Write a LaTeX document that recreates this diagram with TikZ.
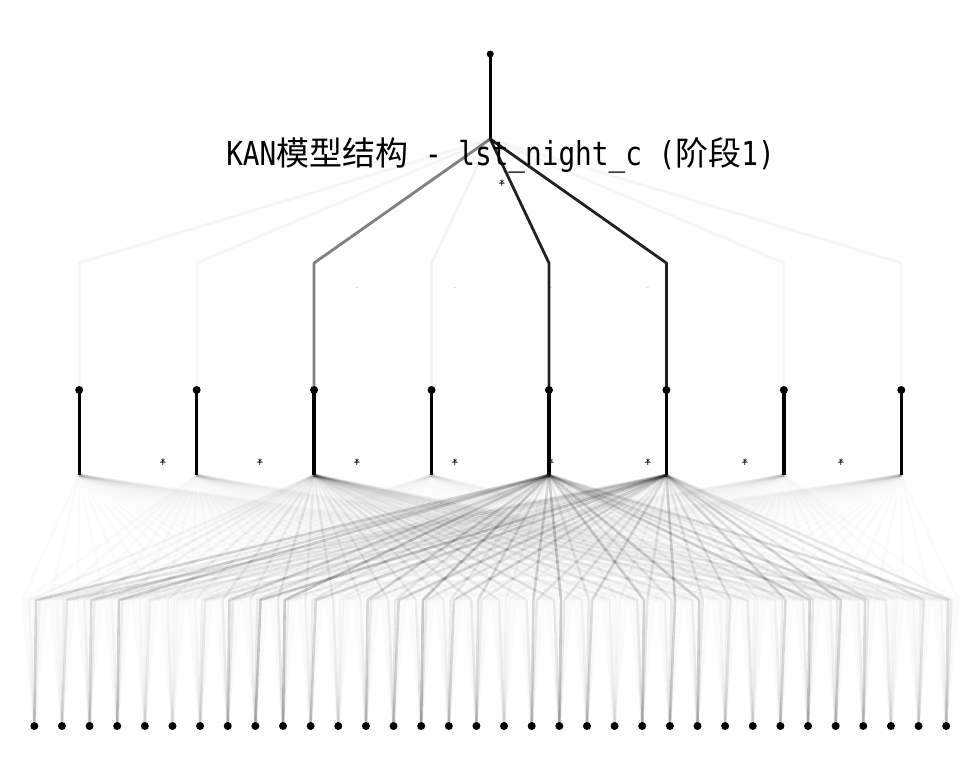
\documentclass[tikz,border=0pt]{standalone}
\usepackage{fontspec}
\newfontfamily\cjk{Noto Sans CJK SC}
\newfontfamily\tmono[FakeStretch=0.84]{DejaVu Sans Mono}
\newfontfamily\dv{DejaVu Sans}
\begin{document}
\begin{tikzpicture}[x=1pt,y=-1pt,
  dot/.style={circle,fill=black,inner sep=0pt,minimum size=8pt},
  edge/.style={draw=black,line width=2.6pt,line join=round},
  topedge/.style={draw=black,line width=2.8pt,line join=round},
  sumline/.style={draw=black,line width=3.4pt},
  tinymark/.style={inner sep=0pt,font=\dv\fontsize{9}{9}\selectfont}]
\useasboundingbox (0,0) rectangle (980,780);

% coordinates of neurons
\foreach \i in {0,...,33}{
  \pgfmathsetmacro\bx{20.5+27.6324*(\i+0.5)}
  \coordinate (b\i) at (\bx,726);
}
\foreach \j in {0,...,7}{
  \pgfmathsetmacro\hx{20.5+117.4375*(\j+0.5)}
  \coordinate (s\j) at (\hx,475);
  \coordinate (h\j) at (\hx,390);
  \coordinate (k\j) at (\hx,263);
}
\coordinate (top) at (490.25,54);
\coordinate (tops) at (490.25,139);

% layer 0 edges (34 -> 8)
\foreach \i/\aa/\ab/\ac in {
 0/0.05/0.20/0.07, 1/0.04/0.07/0.13, 2/0.07/0.18/0.09, 3/0.05/0.22/0.09,
 4/0.04/0.05/0.09, 5/0.06/0.04/0.04, 6/0.05/0.07/0.11, 7/0.09/0.20/0.11,
 8/0.07/0.11/0.27, 9/0.11/0.27/0.09, 10/0.07/0.09/0.20, 11/0.09/0.05/0.05,
 12/0.07/0.20/0.11, 13/0.09/0.11/0.20, 14/0.09/0.27/0.11, 15/0.07/0.09/0.18,
 16/0.11/0.16/0.09, 17/0.09/0.05/0.04, 18/0.09/0.20/0.11, 19/0.12/0.25/0.11,
 20/0.07/0.11/0.18, 21/0.07/0.04/0.04, 22/0.11/0.22/0.12, 23/0.07/0.11/0.22,
 24/0.09/0.22/0.11, 25/0.05/0.07/0.13, 26/0.11/0.05/0.05, 27/0.07/0.09/0.18,
 28/0.09/0.22/0.12, 29/0.07/0.11/0.20, 30/0.07/0.18/0.11, 31/0.09/0.04/0.05,
 32/0.05/0.07/0.13, 33/0.05/0.16/0.11}{
  \foreach \j/\op in {0/0.015,1/0.015,2/\aa*0.8,3/0.015,4/\ab*0.8,5/\ac*0.8,6/0.015,7/0.015}{
    \pgfmathsetmacro\kx{20.5+3.45404*(8*\i+\j+0.5)}
    \pgfmathsetmacro\opp{\op}
    \coordinate (k\i-\j) at (\kx,600);
    \draw[edge,draw opacity=\opp] (b\i) -- (k\i-\j) -- (s\j);
  }
}

% layer 1 edges (8 -> 1)
\foreach \j/\op in {0/0.035,1/0.035,2/0.5,3/0.045,4/0.87,5/0.87,6/0.035,7/0.035}{
  \draw[topedge,draw opacity=\op] (h\j) -- (k\j) -- (tops);
}

% node-to-sum lines
\foreach \j in {0,...,7}{
  \draw[sumline] (h\j) -- (s\j);
}
\draw[sumline] (top) -- (tops);

% neuron dots
\foreach \i in {0,...,33}{ \node[dot] (nb\i) at (b\i) {}; }
\foreach \j in {0,...,7}{ \node[dot] (nh\j) at (h\j) {}; }
\node[dot,minimum size=7pt] (ntop) at (top) {};

% small markers
\foreach \m/\mx in {0/163,1/260,2/357,3/455,4/551,5/648,6/745,7/841}{
  \node[tinymark] (mk\m) at (\mx,463) {\ooalign{\hfil+\hfil\cr\hfil*\hfil}};
}
\node[tinymark] (mtop) at (502,184) {\ooalign{\hfil+\hfil\cr\hfil*\hfil}};
\foreach \m/\mx in {2/357,3/455,4/551,5/648}{
  \node[tinymark,opacity=0.15] (sp\m) at (\mx,289) {-};
}

% title
\node[anchor=base,inner sep=0pt] (title) at (500.5,165)
  {\fontsize{33}{40}\selectfont{\tmono KAN}{\cjk 模型结构}{\tmono\ - lst\_night\_c (}{\cjk 阶段}{\tmono 1)}};
\end{tikzpicture}
\end{document}
